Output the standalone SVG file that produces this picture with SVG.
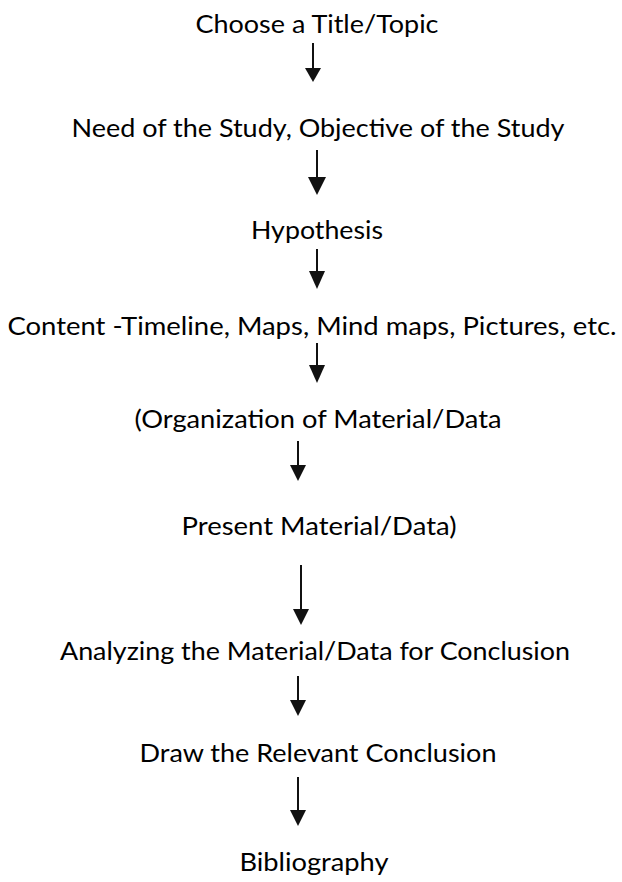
<svg xmlns="http://www.w3.org/2000/svg" width="622" height="882" viewBox="0 0 622 882">
<style>
.t{font-family:Lato,"Open Sans","Liberation Sans",sans-serif;font-size:25.5px;fill:#000;text-anchor:middle}
.c line{stroke:#111;stroke-width:2}
.c polygon{fill:#111}
</style>
<rect width="622" height="882" fill="#fff"/>
<g id="n1"><text class="t" x="317" y="33" textLength="243" lengthAdjust="spacingAndGlyphs">Choose a Title/Topic</text></g>
<g id="n2"><text class="t" x="318" y="137" textLength="493" lengthAdjust="spacingAndGlyphs">Need of the Study, Objective of the Study</text></g>
<g id="n3"><text class="t" x="317" y="239" textLength="132" lengthAdjust="spacingAndGlyphs">Hypothesis</text></g>
<g id="n4"><text class="t" x="312" y="335" textLength="609" lengthAdjust="spacingAndGlyphs">Content -Timeline, Maps, Mind maps, Pictures, etc.</text></g>
<g id="n5"><text class="t" x="318" y="428" textLength="367" lengthAdjust="spacingAndGlyphs">(Organization of Material/Data</text></g>
<g id="n6"><text class="t" x="319" y="535" textLength="275" lengthAdjust="spacingAndGlyphs">Present Material/Data)</text></g>
<g id="n7"><text class="t" x="315" y="660" textLength="510" lengthAdjust="spacingAndGlyphs">Analyzing the Material/Data for Conclusion</text></g>
<g id="n8"><text class="t" x="318" y="762" textLength="357" lengthAdjust="spacingAndGlyphs">Draw the Relevant Conclusion</text></g>
<g id="n9"><text class="t" x="314" y="871" textLength="149" lengthAdjust="spacingAndGlyphs">Bibliography</text></g>
<g id="connectors" class="c">
<line x1="313" y1="43" x2="313" y2="70"/><polygon points="305,68 321,68 313,82"/>
<line x1="317" y1="150" x2="317" y2="180"/><polygon points="308,177 326,177 317,195"/>
<line x1="317" y1="249" x2="317" y2="273"/><polygon points="309,271 325,271 317,289"/>
<line x1="317" y1="343" x2="317" y2="367"/><polygon points="309,365 325,365 317,383"/>
<line x1="298" y1="441" x2="298" y2="467"/><polygon points="290,465 306,465 298,481"/>
<line x1="301" y1="565" x2="301" y2="612"/><polygon points="293,609 309,609 301,625"/>
<line x1="298" y1="676" x2="298" y2="702"/><polygon points="290,700 306,700 298,716"/>
<line x1="298" y1="777" x2="298" y2="812"/><polygon points="290,810 306,810 298,826"/>
</g>
</svg>
